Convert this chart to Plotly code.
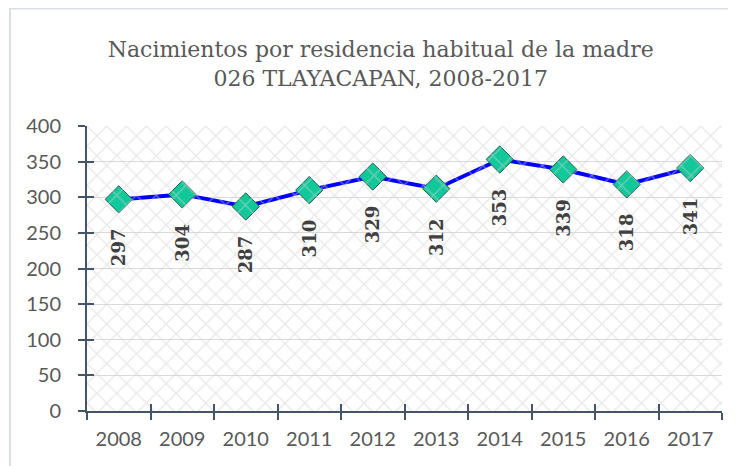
import plotly.graph_objects as go

years = ["2008", "2009", "2010", "2011", "2012", "2013", "2014", "2015", "2016", "2017"]
births = [297, 304, 287, 310, 329, 312, 353, 339, 318, 341]
y_ticks = [0, 50, 100, 150, 200, 250, 300, 350, 400]
title_lines = ["Nacimientos por residencia habitual de la madre", "026 TLAYACAPAN, 2008-2017"]

n = len(years)
AXC = "#44546a"

fig = go.Figure()

# patterned plot background (covers the axis range)
fig.add_trace(go.Scatter(
    x=[-0.5, n - 0.5, n - 0.5, -0.5, -0.5],
    y=[y_ticks[0], y_ticks[0], y_ticks[-1], y_ticks[-1], y_ticks[0]],
    xaxis="x2", mode="lines", line=dict(width=0), fill="toself",
    fillcolor="rgba(0,0,0,0)",
    fillpattern=dict(shape="x", fgcolor="#d2d2d2", bgcolor="rgba(255,255,255,0)", size=14, solidity=0.18),
    hoverinfo="skip", showlegend=False,
))

fig.add_trace(go.Scatter(
    x=years, y=births, mode="lines+markers",
    line=dict(color="#0000ff", width=4),
    marker=dict(symbol="diamond", size=21, color="#10c89a", line=dict(color="#2f5c4e", width=1)),
    showlegend=False,
))

for i, v in enumerate(births):
    fig.add_annotation(
        x=i, y=v, xref="x", yref="y", text=f"<b>{v}</b>", textangle=-90, showarrow=False,
        yanchor="top", yshift=-27,
        font=dict(family="DejaVu Serif", size=18, color="#404040"),
    )

fig.update_layout(
    width=728, height=458,
    margin=dict(l=79, r=14, t=118, b=55),
    paper_bgcolor="white", plot_bgcolor="white",
    title=dict(text="<br>".join(title_lines), x=0.512, xref="container", xanchor="center",
               y=0.893, yanchor="top",
               font=dict(family="DejaVu Serif", size=22, color="#595959")),
    xaxis=dict(
        type="category", showgrid=False, tickson="boundaries", ticks="outside", ticklen=7,
        tickcolor=AXC, tickwidth=1.5, showline=True, linecolor=AXC, linewidth=2,
        ticklabelstandoff=9,
        tickfont=dict(family="Lato", size=20, color="#595959"), range=[-0.5, n - 0.5],
    ),
    xaxis2=dict(overlaying="x", range=[-0.5, n - 0.5], showgrid=False, zeroline=False,
                showticklabels=False, ticks="inside", ticklen=7, tickcolor=AXC, tickwidth=1.5,
                tickvals=[k - 0.5 for k in range(n + 1)], side="bottom", showline=False),
    yaxis=dict(
        range=[y_ticks[0], y_ticks[-1]], tickvals=y_ticks, showgrid=True, gridcolor="#d9d9d9",
        ticks="outside", ticklen=7, tickcolor=AXC, tickwidth=1.5, showline=True, linecolor=AXC,
        linewidth=2, zeroline=False, ticklabelstandoff=13,
        tickfont=dict(family="Lato", size=20, color="#595959"),
    ),
    yaxis2=dict(overlaying="y", range=[y_ticks[0], y_ticks[-1]], tickvals=y_ticks, showgrid=False,
                zeroline=False, showticklabels=False, ticks="inside", ticklen=7, tickcolor=AXC,
                tickwidth=1.5, showline=False),
)

# hidden trace to activate the inside-tick y axis
fig.add_trace(go.Scatter(x=[None], y=[None], yaxis="y2", xaxis="x2", showlegend=False, hoverinfo="skip"))

# outer chart border
W, H = 728, 458
pw, ph = W - 79 - 14, H - 118 - 55
fig.add_shape(type="rect", xref="paper", yref="paper",
              x0=(2 - 79) / pw, x1=(726 - 79) / pw,
              y0=(H - 55 - 470) / ph, y1=(H - 55 - 0.5) / ph,
              line=dict(color="#d9dde6", width=2), layer="below")

fig.write_html("out.html")
